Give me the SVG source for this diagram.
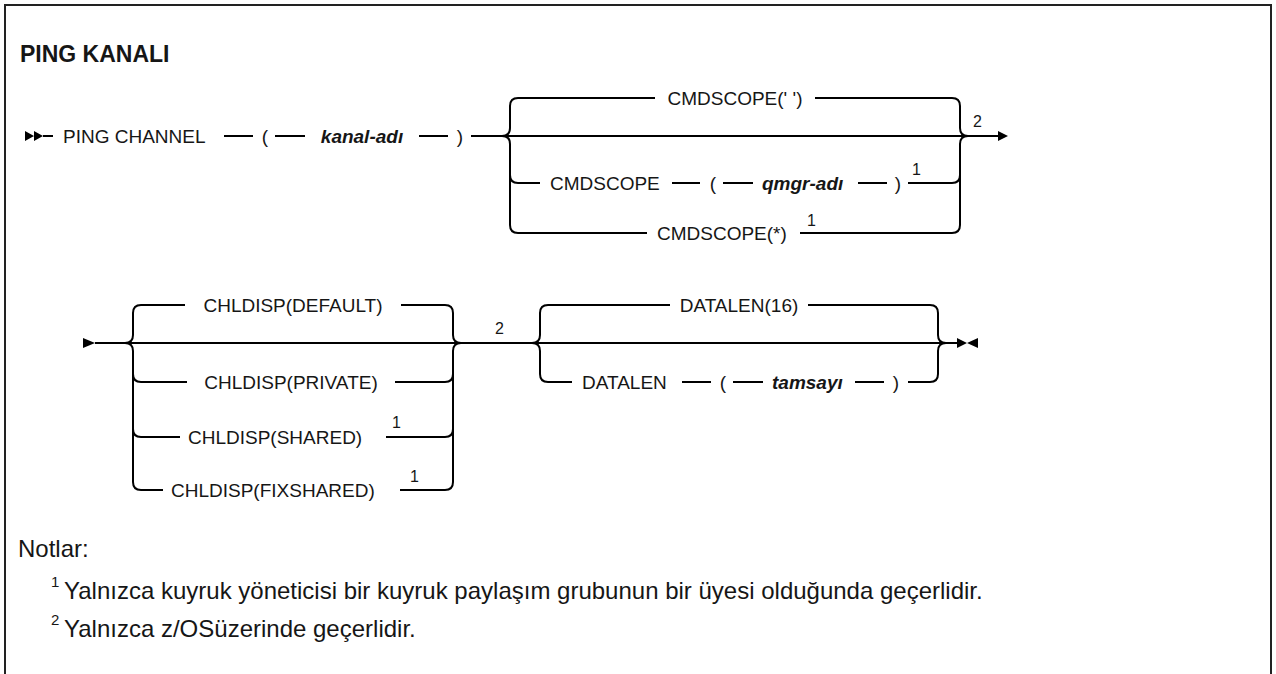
<svg xmlns="http://www.w3.org/2000/svg" width="1276" height="674" viewBox="0 0 1276 674">
<style>
.t{font-family:"Liberation Sans",Arial,sans-serif;font-size:19px;fill:#161616}
.v{font-family:"Liberation Sans",Arial,sans-serif;font-size:19px;font-weight:bold;font-style:italic;fill:#161616}
.s{font-family:"Liberation Sans",Arial,sans-serif;font-size:16px;fill:#161616}
.n{font-family:"Liberation Sans",Arial,sans-serif;font-size:24px;fill:#161616}
.ns{font-family:"Liberation Sans",Arial,sans-serif;font-size:15px;fill:#161616}
.ttl{font-family:"Liberation Sans",Arial,sans-serif;font-size:23px;font-weight:bold;fill:#161616}
.l{fill:none;stroke:#000;stroke-width:2}
.a{fill:#000}
</style>
<rect x="0" y="0" width="1276" height="674" fill="#fff"/>
<path d="M5,680 V5 H1271 V680" fill="none" stroke="#222" stroke-width="2"/>
<g id="title"><text class="ttl" x="20" y="62">PING KANALI</text></g>
<g id="connectors">
<path class="a" d="M25,131 L34,136 L25,141 Z M34,131 L43,136 L34,141 Z"/>
<path class="l" d="M43,136 H53 M224,136 H253 M275,136 H305 M419,136 H448 M471,136 H998"/>
<path class="a" d="M998,131 L1008,136 L998,141 Z"/>
<path class="l" d="M502,136 Q510,136 510,128 V106 Q510,98 518,98 H655"/>
<path class="l" d="M502,136 Q510,136 510,144 V225 Q510,233 518,233 H647"/>
<path class="l" d="M510,175 Q510,183 518,183 H540"/>
<path class="l" d="M815,98 H952 Q960,98 960,106 V128 Q960,136 968,136"/>
<path class="l" d="M800,233 H952 Q960,233 960,225 V144 Q960,136 968,136"/>
<path class="l" d="M908,183 H952 Q960,183 960,175"/>
<path class="l" d="M672,183 H700 M723,183 H753 M858,183 H887"/>
<path class="a" d="M83,338 L95,343 L83,348 Z"/>
<path class="l" d="M95,343 H957"/>
<path class="l" d="M125,343 Q133,343 133,335 V313 Q133,305 141,305 H185"/>
<path class="l" d="M125,343 Q133,343 133,351 V482 Q133,490 141,490 H163"/>
<path class="l" d="M133,374 Q133,382 141,382 H187"/>
<path class="l" d="M133,429 Q133,437 141,437 H180"/>
<path class="l" d="M401,305 H445 Q453,305 453,313 V335 Q453,343 461,343"/>
<path class="l" d="M400,490 H445 Q453,490 453,482 V351 Q453,343 461,343"/>
<path class="l" d="M395,382 H445 Q453,382 453,374"/>
<path class="l" d="M386,437 H445 Q453,437 453,429"/>
<path class="l" d="M532,343 Q540,343 540,335 V313 Q540,305 548,305 H670"/>
<path class="l" d="M532,343 Q540,343 540,351 V374 Q540,382 548,382 H572"/>
<path class="l" d="M808,305 H930 Q938,305 938,313 V335 Q938,343 946,343"/>
<path class="l" d="M908,382 H930 Q938,382 938,374 V351 Q938,343 946,343"/>
<path class="l" d="M682,382 H711 M733,382 H763 M855,382 H884"/>
<path class="a" d="M957,338 L967,343 L957,348 Z M978,338 L967,343 L978,348 Z"/>
</g>
<g id="node-ping-channel"><text class="t" x="63" y="143">PING CHANNEL</text></g>
<g id="node-paren-open-1"><text class="t" x="265" y="143" text-anchor="middle">(</text></g>
<g id="node-kanal-adi"><text class="v" x="362" y="143" text-anchor="middle">kanal-adı</text></g>
<g id="node-paren-close-1"><text class="t" x="460" y="143" text-anchor="middle">)</text></g>
<g id="node-cmdscope-blank"><text class="t" x="735" y="105" text-anchor="middle">CMDSCOPE(' ')</text></g>
<g id="node-cmdscope-qmgr">
<text class="t" x="550" y="190">CMDSCOPE</text>
<text class="t" x="713" y="190" text-anchor="middle">(</text>
<text class="v" x="762" y="190">qmgr-adı</text>
<text class="t" x="898" y="190" text-anchor="middle">)</text>
<text class="s" x="912" y="175">1</text>
</g>
<g id="node-cmdscope-star">
<text class="t" x="657" y="240">CMDSCOPE(*)</text>
<text class="s" x="807" y="226">1</text>
</g>
<g id="note-ref-2a"><text class="s" x="973" y="127">2</text></g>
<g id="node-chldisp-default"><text class="t" x="293" y="312" text-anchor="middle">CHLDISP(DEFAULT)</text></g>
<g id="node-chldisp-private"><text class="t" x="291" y="389" text-anchor="middle">CHLDISP(PRIVATE)</text></g>
<g id="node-chldisp-shared">
<text class="t" x="188" y="444">CHLDISP(SHARED)</text>
<text class="s" x="392" y="428">1</text>
</g>
<g id="node-chldisp-fixshared">
<text class="t" x="171" y="497">CHLDISP(FIXSHARED)</text>
<text class="s" x="410" y="482">1</text>
</g>
<g id="note-ref-2b"><text class="s" x="495" y="334">2</text></g>
<g id="node-datalen-16"><text class="t" x="739" y="312" text-anchor="middle">DATALEN(16)</text></g>
<g id="node-datalen-int">
<text class="t" x="582" y="389">DATALEN</text>
<text class="t" x="723" y="389" text-anchor="middle">(</text>
<text class="v" x="772" y="389">tamsayı</text>
<text class="t" x="896" y="389" text-anchor="middle">)</text>
</g>
<g id="notes">
<text class="n" x="18" y="557">Notlar:</text>
<text class="ns" x="51" y="587">1</text>
<text class="n" x="64" y="599">Yalnızca kuyruk yöneticisi bir kuyruk paylaşım grubunun bir üyesi olduğunda geçerlidir.</text>
<text class="ns" x="51" y="625">2</text>
<text class="n" x="64" y="637">Yalnızca z/OSüzerinde geçerlidir.</text>
</g>
</svg>
